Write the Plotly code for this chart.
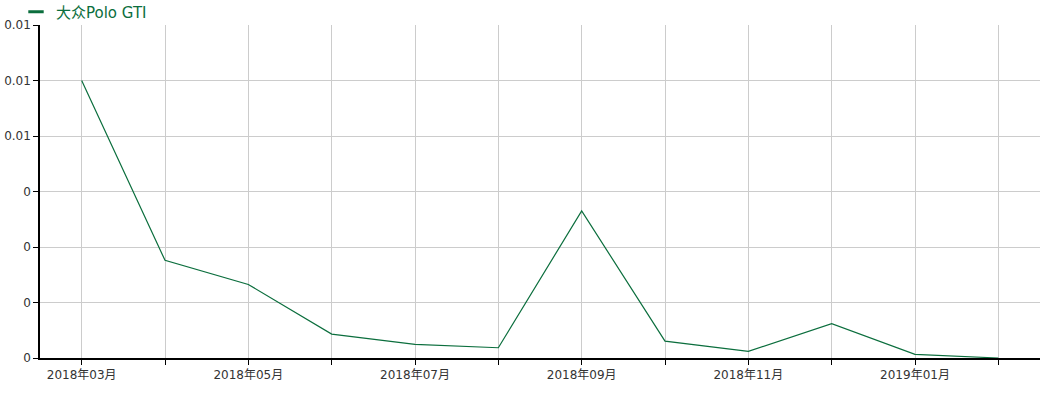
import plotly.graph_objects as go

months = ["2018年03月", "2018年04月", "2018年05月", "2018年06月", "2018年07月", "2018年08月",
          "2018年09月", "2018年10月", "2018年11月", "2018年12月", "2019年01月", "2019年02月"]
values = [0.0100, 0.00352, 0.00265, 0.00086, 0.00049, 0.00037,
          0.0053, 0.00061, 0.00024, 0.00124, 0.00013, 0.0]
series_name = "大众Polo GTI"
y_tickvals = [0, 0.002, 0.004, 0.006, 0.008, 0.010, 0.012]
y_ticktext = ["0", "0", "0", "0", "0.01", "0.01", "0.01"]

color = "#0b6e3d"
font_family = "DejaVu Sans, Noto Sans CJK SC, sans-serif"

fig = go.Figure()
fig.add_trace(go.Scatter(x=months, y=values, mode="lines", name=series_name,
                         line=dict(color=color, width=1.2), showlegend=False))
fig.add_trace(go.Scatter(x=[None], y=[None], mode="markers", name=series_name,
                         marker=dict(symbol="line-ew", size=11, color=color,
                                     line=dict(color=color, width=3)),
                         showlegend=True))

x_ticktext = [m if i % 2 == 0 else "" for i, m in enumerate(months)]

fig.update_layout(
    width=1051, height=395,
    margin=dict(l=40, r=11, t=25, b=37, pad=0, autoexpand=False),
    paper_bgcolor="white", plot_bgcolor="white",
    font=dict(family=font_family, size=12, color="#333333"),
    showlegend=True,
    legend=dict(xref="container", yref="container", x=16 / 1051, y=1 - 12 / 395,
                xanchor="left", yanchor="middle",
                orientation="h", font=dict(size=15, color=color),
                bgcolor="rgba(0,0,0,0)", itemclick=False,
                tracegroupgap=0),
    xaxis=dict(type="category", range=[-0.5, 11.5], automargin=False,
               tickmode="array", tickvals=months, ticktext=x_ticktext,
               showgrid=True, gridcolor="#cccccc", gridwidth=1,
               showline=True, linecolor="#000000", linewidth=1.5,
               ticks="outside", ticklen=5, tickcolor="#000000", tickwidth=1,
               tickfont=dict(size=12, color="#333333"), zeroline=False,
               fixedrange=True),
    yaxis=dict(range=[0, 0.012], tickmode="array", tickvals=y_tickvals,
               ticktext=y_ticktext, automargin=False,
               showgrid=True, gridcolor="#cccccc", gridwidth=1,
               showline=True, linecolor="#000000", linewidth=1.5,
               ticks="outside", ticklen=5, tickcolor="#000000", tickwidth=1,
               tickfont=dict(size=12, color="#333333"), zeroline=False,
               fixedrange=True),
)

fig.write_html("out.html", config={"displayModeBar": False})
